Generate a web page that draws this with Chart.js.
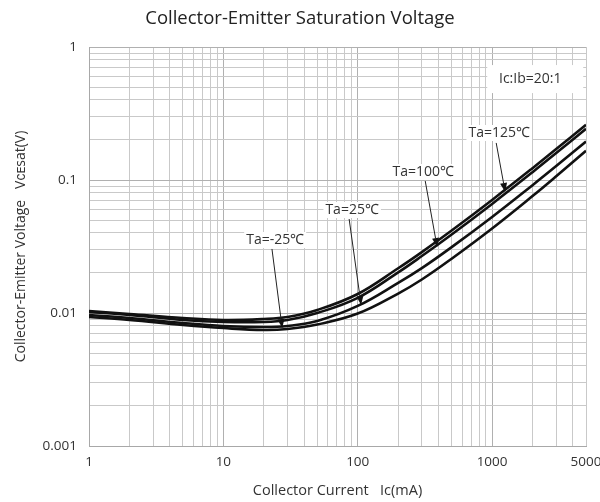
<!DOCTYPE html>
<html>
<head>
<meta charset="utf-8">
<script src="https://cdn.jsdelivr.net/npm/chart.js@4.4.0/dist/chart.umd.min.js"></script>
<style>
  html, body { margin: 0; padding: 0; background: #fff; }
</style>
</head>
<body>
<canvas id="chart" width="600" height="502"></canvas>
<script>
// Collector current (mA)
const ic = [1, 2, 5, 10, 20, 30, 50, 100, 200, 300, 500, 1000, 2000, 3000, 5000];

// Vce(sat) in volts
const vce125 = [0.01035, 0.00983, 0.00917, 0.00886, 0.00901, 0.00933, 0.01054, 0.0139, 0.0217, 0.0287, 0.0417, 0.0708, 0.1227, 0.171, 0.260];
const vce100 = [0.01017, 0.00966, 0.00886, 0.00856, 0.00856, 0.00886, 0.0100, 0.0130, 0.0202, 0.0268, 0.0389, 0.0661, 0.1145, 0.1595, 0.2425];
const vce25 = [0.00966, 0.00917, 0.00841, 0.00799, 0.00785, 0.00799, 0.00871, 0.0113, 0.01683, 0.02173, 0.03126, 0.0527, 0.0914, 0.1272, 0.1945];
const vceM25 = [0.00933, 0.00886, 0.00813, 0.00771, 0.00745, 0.00758, 0.0082, 0.0099, 0.0140, 0.01786, 0.0256, 0.0432, 0.0757, 0.1066, 0.166];

const seriesNames = ['Ta=125℃', 'Ta=100℃', 'Ta=25℃', 'Ta=-25℃'];
const seriesValues = [vce125, vce100, vce25, vceM25];

// axis labels
const xLabels = [1, 10, 100, 1000, 5000];
const yLabels = [1, 0.1, 0.01, 0.001];

// callouts: label position, arrow tail and tip, all in data units
const callouts = [
    { text: 'Ta=125℃', at: [1130, 0.2256], tail: [1073, 0.190], tip: [1252, 0.0813] },
    { text: 'Ta=100℃', at: [307, 0.1148], tail: [318, 0.0983], tip: [390, 0.0313] },
    { text: 'Ta=25℃', at: [90.9, 0.0595], tail: [86.3, 0.0509], tip: [106, 0.01148] },
    { text: 'Ta=-25℃', at: [24.3, 0.0354], tail: [23.0, 0.0303], tip: [27.4, 0.00771] }
];
const ratioNote = { text: 'Ic:Ib=20:1', at: [1923, 0.574] };

// log grid: 1..9 per decade, no 1.5 steps
function logTicks(minExp, maxValue) {
    const out = [];
    for (let e = minExp; ; e++) {
        for (let m = 1; m <= 9; m++) {
            const v = parseFloat((m * Math.pow(10, e)).toPrecision(6));
            if (v > maxValue + 1e-12) return out;
            out.push(v);
        }
    }
}

function isDecade(v) {
    const l = Math.log10(v);
    return Math.abs(l - Math.round(l)) < 1e-9;
}

const gridColor = (ctx) => (ctx.tick && isDecade(ctx.tick.value)) ? '#b0b0b0' : '#c9c9c9';

const calloutPlugin = {
    id: 'callouts',
    afterDatasetsDraw(chart) {
        const { ctx, scales: { x, y } } = chart;
        ctx.save();
        ctx.font = '14px "Open Sans", sans-serif';
        ctx.textAlign = 'center';
        ctx.textBaseline = 'middle';

        // ratio box
        const rx = x.getPixelForValue(ratioNote.at[0]);
        const ry = y.getPixelForValue(ratioNote.at[1]);
        ctx.fillStyle = '#fff';
        ctx.fillRect(rx - 43, ry - 14, 96, 28);
        ctx.fillStyle = '#333';
        ctx.fillText(ratioNote.text, rx, ry);

        callouts.forEach(c => {
            const tx = x.getPixelForValue(c.at[0]);
            const ty = y.getPixelForValue(c.at[1]);
            const w = ctx.measureText(c.text).width;
            ctx.fillStyle = '#fff';
            ctx.fillRect(tx - w / 2 - 2, ty - 8, w + 4, 16);
            ctx.fillStyle = '#333';
            ctx.fillText(c.text, tx, ty);

            const x0 = x.getPixelForValue(c.tail[0]);
            const y0 = y.getPixelForValue(c.tail[1]);
            const x1 = x.getPixelForValue(c.tip[0]);
            const y1 = y.getPixelForValue(c.tip[1]);
            const ang = Math.atan2(y1 - y0, x1 - x0);
            const len = 9, half = 3.5;
            const bx = x1 - len * Math.cos(ang);
            const by = y1 - len * Math.sin(ang);

            ctx.strokeStyle = '#222';
            ctx.lineWidth = 1;
            ctx.beginPath();
            ctx.moveTo(x0, y0);
            ctx.lineTo(bx, by);
            ctx.stroke();

            ctx.fillStyle = '#111';
            ctx.beginPath();
            ctx.moveTo(x1, y1);
            ctx.lineTo(bx + half * Math.sin(ang), by - half * Math.cos(ang));
            ctx.lineTo(bx - half * Math.sin(ang), by + half * Math.cos(ang));
            ctx.closePath();
            ctx.fill();
        });
        ctx.restore();
    }
};

Chart.defaults.font.family = '"Open Sans", sans-serif';
Chart.defaults.color = '#333';

new Chart(document.getElementById('chart'), {
    type: 'line',
    data: {
        datasets: seriesValues.map((vals, i) => ({
            label: seriesNames[i],
            data: ic.map((c, j) => ({ x: c, y: vals[j] })),
            borderColor: '#111',
            borderWidth: 2.6,
            pointRadius: 0,
            fill: false,
            tension: 0.4
        }))
    },
    options: {
        responsive: false,
        animation: false,
        layout: { padding: { left: 0, right: 0, top: 0, bottom: 0 } },
        plugins: {
            legend: { display: false },
            tooltip: { enabled: false },
            title: {
                display: true,
                text: 'Collector-Emitter Saturation Voltage',
                color: '#222',
                font: { size: 18.5, weight: 'normal' },
                padding: { top: 8, bottom: 16.8 }
            }
        },
        scales: {
            x: {
                type: 'logarithmic',
                min: 1,
                max: 5000,
                afterBuildTicks: (scale) => {
                    scale.ticks = logTicks(0, 5000).map(v => ({ value: v }));
                },
                afterFit: (scale) => {
                    scale.height = 56;
                    scale.paddingLeft = 0;
                    scale.paddingRight = 14;
                },
                grid: { color: gridColor, drawTicks: false, lineWidth: 1 },
                border: { color: '#a8a8a8' },
                ticks: {
                    autoSkip: false,
                    maxRotation: 0,
                    padding: 8,
                    font: { size: 13.5 },
                    callback: (v) => xLabels.includes(v) ? String(v) : ''
                },
                title: {
                    display: true,
                    text: 'Collector Current   Ic(mA)',
                    font: { size: 14.5 },
                    padding: { top: 0, bottom: 2.5 }
                }
            },
            y: {
                type: 'logarithmic',
                min: 0.001,
                max: 1,
                afterBuildTicks: (scale) => {
                    scale.ticks = logTicks(-3, 1).map(v => ({ value: v }));
                },
                afterFit: (scale) => { scale.width = 89; },
                grid: { color: gridColor, drawTicks: false, lineWidth: 1 },
                border: { color: '#a8a8a8' },
                ticks: {
                    autoSkip: false,
                    padding: 12,
                    font: { size: 13.5 },
                    callback: (v) => yLabels.includes(v) ? String(v) : ''
                },
                title: {
                    display: true,
                    text: 'Collector-Emitter Voltage   Vᴄᴇsat(V)',
                    font: { size: 14 },
                    padding: { top: 13, bottom: 0 }
                }
            }
        }
    },
    plugins: [calloutPlugin]
});
</script>
</body>
</html>
